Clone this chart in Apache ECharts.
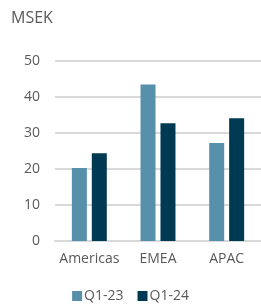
<!DOCTYPE html>
<html>
<head>
<meta charset="utf-8">
<script src="https://cdn.jsdelivr.net/npm/echarts@6/dist/echarts.min.js"></script>
<style>
  html, body { margin: 0; padding: 0; background: #fff; }
  #chart { width: 261px; height: 307px; }
</style>
</head>
<body>
<div id="chart"></div>
<script>
const regions = ['Americas', 'EMEA', 'APAC'];
const q123 = [20.3, 43.5, 27.2];
const q124 = [24.4, 32.7, 34.1];
const seriesNames = ['Q1-23', 'Q1-24'];

const font = 'Open Sans';
const txt = '#595959';

const chart = echarts.init(document.getElementById('chart'));
chart.setOption({
    animation: false,
    title: {
        text: 'MSEK',
        left: 6,
        top: 5,
        textStyle: { fontFamily: font, fontSize: 16, fontWeight: 'normal', color: txt }
    },
    legend: {
        bottom: -1,
        left: 'center',
        itemWidth: 10,
        itemHeight: 10,
        itemGap: 14,
        icon: 'rect',
        textStyle: { fontFamily: font, fontSize: 14, color: txt, padding: [0, 0, 0, -3] },
        data: seriesNames
    },
    grid: { left: 55, top: 61, width: 210, height: 180 },
    xAxis: {
        type: 'category',
        data: regions,
        axisLine: { lineStyle: { color: '#d9d9d9', width: 2 } },
        axisTick: { show: false },
        axisLabel: { fontFamily: font, fontSize: 14, color: txt, margin: 11, interval: 0 }
    },
    yAxis: {
        type: 'value',
        min: 0,
        max: 50,
        interval: 10,
        axisLine: { show: false },
        axisTick: { show: false },
        axisLabel: { fontFamily: font, fontSize: 14, color: txt, margin: 15 },
        splitLine: { lineStyle: { color: '#d9d9d9', width: 2 } }
    },
    series: [
        {
            name: seriesNames[0],
            type: 'bar',
            data: q123,
            barWidth: 15,
            barGap: '33%',
            itemStyle: { color: '#5690ab' }
        },
        {
            name: seriesNames[1],
            type: 'bar',
            data: q124,
            barWidth: 15,
            itemStyle: { color: '#003a52' }
        }
    ]
});
</script>
</body>
</html>
